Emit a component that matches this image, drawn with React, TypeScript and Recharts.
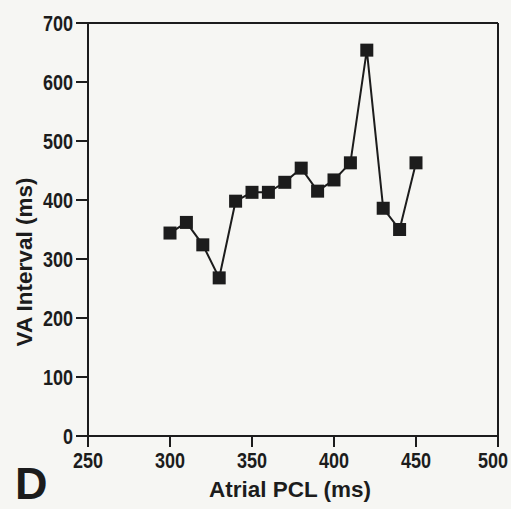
import React from 'react';
import { LineChart, Line, XAxis, YAxis, ReferenceLine } from 'recharts';

const atrialPCL = [300, 310, 320, 330, 340, 350, 360, 370, 380, 390, 400, 410, 420, 430, 440, 450];
const vaInterval = [344, 362, 324, 268, 398, 413, 413, 430, 454, 415, 434, 463, 654, 386, 350, 463];
const xTicks = [250, 300, 350, 400, 450, 500];
const yTicks = [0, 100, 200, 300, 400, 500, 600, 700];

const data = atrialPCL.map((x, i) => ({ x, y: vaInterval[i] }));

const INK = '#1c1c1c';
const FONT = '"Liberation Sans", Arial, sans-serif';
const CHART_W = 511;

const SquareDot = (props: any) => {
  const { cx, cy, index } = props;
  if (cx == null || cy == null) return null;
  return <rect key={`sq-${index}`} x={cx - 6.5} y={cy - 6.5} width={13} height={13} fill={INK} />;
};

const NarrowTick = (props: any) => {
  const { x, y, payload, textAnchor, vertical } = props;
  const dy = vertical ? '0.355em' : '0.71em';
  let tx = x;
  if (!vertical) {
    const halfW = (String(payload.value).length * 0.556 * 22 * 0.82) / 2;
    tx = Math.min(x, CHART_W - 3 - halfW);
  }
  return (
    <text
      x={tx}
      y={y}
      dy={dy}
      textAnchor={textAnchor}
      transform={`translate(${tx} 0) scale(0.82 1) translate(${-tx} 0)`}
      fontFamily={FONT}
      fontWeight="bold"
      fontSize={22}
      fill={INK}
    >
      {payload.value}
    </text>
  );
};

export default function App() {
  return (
    <div style={{ position: 'absolute', left: 0, top: 0, width: 511, height: 509, background: '#f6f6f3' }}>
      <LineChart width={CHART_W} height={509} data={data} margin={{ top: 23, right: 13, bottom: 0, left: 0 }}>
        <XAxis
          dataKey="x"
          type="number"
          domain={[250, 500]}
          ticks={xTicks}
          height={73}
          stroke={INK}
          strokeWidth={2}
          tickSize={11}
          tickMargin={5}
          tick={(p: any) => <NarrowTick {...p} vertical={false} />}
          allowDataOverflow
        />
        <YAxis
          dataKey="y"
          type="number"
          domain={[0, 700]}
          ticks={yTicks}
          width={88}
          stroke={INK}
          strokeWidth={2}
          tickSize={12}
          tickMargin={3}
          tick={(p: any) => <NarrowTick {...p} vertical={true} />}
          allowDataOverflow
        />
        <ReferenceLine y={700} stroke={INK} strokeWidth={2} />
        <ReferenceLine x={500} stroke={INK} strokeWidth={2} />
        <Line
          dataKey="y"
          stroke={INK}
          strokeWidth={2}
          dot={SquareDot}
          activeDot={false}
          isAnimationActive={false}
        />
        <text x={290} y={497} textAnchor="middle" fontFamily={FONT} fontWeight="bold" fontSize={22.5} fill={INK}>
          Atrial PCL (ms)
        </text>
        <text
          x={32}
          y={262}
          textAnchor="middle"
          transform="rotate(-90 32 262)"
          fontFamily={FONT}
          fontWeight="bold"
          fontSize={22.5}
          fill={INK}
        >
          VA Interval (ms)
        </text>
        <text x={15} y={499} fontFamily={FONT} fontWeight="bold" fontSize={45} fill={INK}>
          D
        </text>
      </LineChart>
    </div>
  );
}
